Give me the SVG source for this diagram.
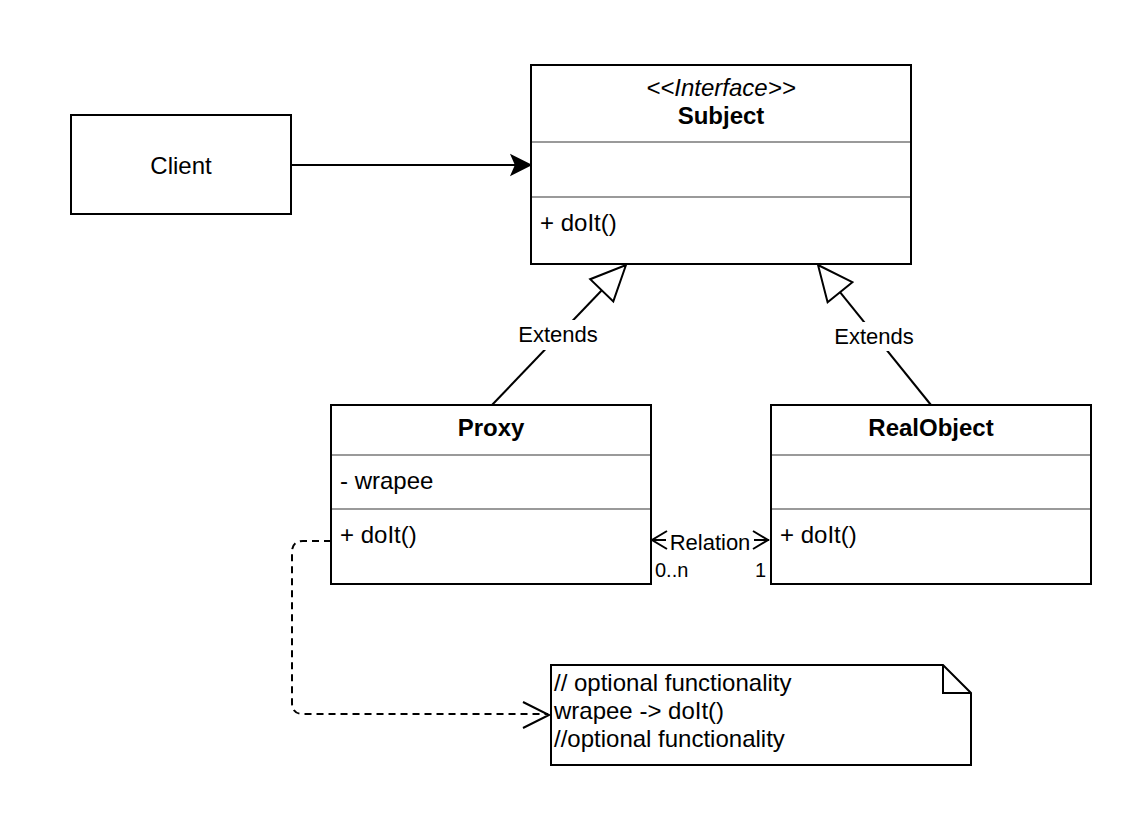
<svg xmlns="http://www.w3.org/2000/svg" width="1138" height="820" viewBox="0 0 1138 820">
<style>
.box{fill:#fff;stroke:#000;stroke-width:2}
.div{stroke:#9a9a9a;stroke-width:2;fill:none}
.t{font-family:"Liberation Sans",Arial,sans-serif;font-size:24px;fill:#000}
.b{font-weight:bold}
.i{font-style:italic}
.lbl{font-family:"Liberation Sans",Arial,sans-serif;font-size:22px;fill:#000}
.m{font-family:"Liberation Sans",Arial,sans-serif;font-size:20px;fill:#000}
.edge{stroke:#000;stroke-width:2;fill:none}
.open{stroke:#000;stroke-width:2;fill:none}
.tri{stroke:#000;stroke-width:2;fill:#fff}
.dash{stroke-dasharray:7 5}
</style>
<rect width="1138" height="820" fill="#fff"/>

<g id="connectors">
  <!-- Client -> Subject -->
  <g id="e-client-subject">
    <line class="edge" x1="291" y1="165" x2="518" y2="165"/>
    <polygon points="530,165 512,156 516,165 512,174" fill="#000" stroke="#000" stroke-width="2"/>
  </g>
  <!-- Proxy extends Subject -->
  <g id="e-proxy-subject">
    <line class="edge" x1="492" y1="405" x2="601.8" y2="290.3"/>
    <polygon class="tri" points="626,265 613.3,301.4 590.2,279.2"/>
    <rect x="516" y="320" width="84" height="30" fill="#fff"/>
    <text class="lbl" x="558" y="342" text-anchor="middle">Extends</text>
  </g>
  <!-- RealObject extends Subject -->
  <g id="e-real-subject">
    <line class="edge" x1="931" y1="405" x2="840" y2="292.2"/>
    <polygon class="tri" points="818,265 852.4,282.2 827.6,302.2"/>
    <rect x="832" y="322" width="84" height="29" fill="#fff"/>
    <text class="lbl" x="874" y="344" text-anchor="middle">Extends</text>
  </g>
  <!-- Relation -->
  <g id="e-relation">
    <line class="edge" x1="652" y1="540" x2="769" y2="540"/>
    <rect x="666" y="528" width="88" height="26" fill="#fff"/>
    <text class="lbl" x="710" y="550" text-anchor="middle">Relation</text>
    <polyline class="open" points="667,531 652,540 667,549"/>
    <polyline class="open" points="753,531 768,540 753,549"/>
    <text class="m" x="655" y="577">0..n</text>
    <text class="m" x="755" y="577">1</text>
  </g>
  <!-- Proxy doIt -> note -->
  <g id="e-proxy-note">
    <path class="edge dash" d="M331,541 H303 Q292,541 292,552 V703 Q292,714 303,714 H548"/>
    <polyline class="open" points="523,702 549,715 523,728"/>
  </g>
</g>

<g id="client">
  <rect class="box" x="71" y="115" width="220" height="99"/>
  <text class="t" x="181" y="174" text-anchor="middle">Client</text>
</g>

<g id="subject">
  <rect class="box" x="531" y="65" width="380" height="199"/>
  <line class="div" x1="532" y1="142" x2="910" y2="142"/>
  <line class="div" x1="532" y1="197" x2="910" y2="197"/>
  <text class="t i" x="721" y="96" text-anchor="middle">&lt;&lt;Interface&gt;&gt;</text>
  <text class="t b" x="721" y="124" text-anchor="middle">Subject</text>
  <text class="t" x="540" y="231">+ doIt()</text>
</g>

<g id="proxy">
  <rect class="box" x="331" y="405" width="320" height="179"/>
  <line class="div" x1="332" y1="455" x2="650" y2="455"/>
  <line class="div" x1="332" y1="509" x2="650" y2="509"/>
  <text class="t b" x="491" y="436" text-anchor="middle">Proxy</text>
  <text class="t" x="340" y="489">- wrapee</text>
  <text class="t" x="340" y="543">+ doIt()</text>
</g>

<g id="realobject">
  <rect class="box" x="771" y="405" width="320" height="179"/>
  <line class="div" x1="772" y1="455" x2="1090" y2="455"/>
  <line class="div" x1="772" y1="509" x2="1090" y2="509"/>
  <text class="t b" x="931" y="436" text-anchor="middle">RealObject</text>
  <text class="t" x="780" y="543">+ doIt()</text>
</g>

<g id="note">
  <polygon class="box" points="551,665 943,665 971,693 971,765 551,765"/>
  <polyline class="edge" points="943,665 943,693 971,693"/>
  <text class="t" x="554" y="691">// optional functionality</text>
  <text class="t" x="554" y="719">wrapee -&gt; doIt()</text>
  <text class="t" x="554" y="747">//optional functionality</text>
</g>
</svg>
